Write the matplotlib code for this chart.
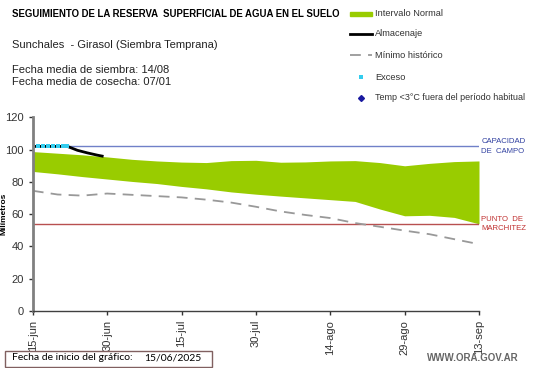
import matplotlib
matplotlib.use("Agg")
import matplotlib.pyplot as plt
import numpy as np

plt.rcParams['font.family'] = ['Liberation Sans', 'DejaVu Sans']

# Datos (dias desde 15-jun)
dias = [0, 5, 10, 15, 20, 25, 30, 35, 40, 45, 50, 55, 60, 65, 70, 75, 80, 85, 90]
normal_sup = [98.8, 97.8, 96.8, 95.5, 94.0, 93.0, 92.3, 92.0, 93.2, 93.4,
              92.2, 92.4, 93.0, 93.2, 92.0, 90.0, 91.5, 92.6, 93.0]
normal_inf = [86.5, 85.0, 83.3, 81.8, 80.3, 79.0, 77.2, 75.7, 73.8, 72.4,
              71.2, 70.1, 69.0, 67.9, 63.2, 59.0, 59.3, 58.0, 54.0]
minimo = [74.5, 72.2, 71.5, 72.8, 72.0, 71.2, 70.4, 69.0, 67.2, 64.6,
          61.7, 59.5, 57.6, 54.5, 52.2, 49.8, 47.6, 44.5, 41.4]

dias_alm = list(range(15))
almacenaje = [102, 102, 102, 102, 102, 102, 102, 102,
              100.8, 99.6, 98.8, 98.0, 97.3, 96.6, 96.0]
dias_exc = list(range(8))
exceso = [102] * 8

capacidad = 102
marchitez = 54

ticks = [0, 15, 30, 45, 60, 75, 90]
tick_labels = ['15-jun', '30-jun', '15-jul', '30-jul', '14-ago', '29-ago', '13-sep']

fig = plt.figure(figsize=(5.41, 3.68), dpi=100)
ax = fig.add_axes([0.0606, 0.155, 0.8248, 0.526])

ax.fill_between(dias, normal_inf, normal_sup, color='#99cc00', lw=0)
ax.axhline(capacidad, color='#7080c8', lw=1)
ax.axhline(marchitez, color='#b85050', lw=1)
ax.plot(dias, minimo, color='#999999', lw=1.3, dashes=(6, 4))
ax.plot(dias_alm, almacenaje, color='black', lw=2)
ax.plot(dias_exc, exceso, ls='none', marker='s', ms=2.4, mew=0, color='#33ccee')

ax.set_xlim(0, 90)
ax.set_ylim(0, 120)
ax.set_yticks(range(0, 121, 20))
ax.set_xticks(ticks)
ax.set_xticklabels(tick_labels, rotation=90)
ax.tick_params(labelsize=8, length=3, width=1, colors='#333333')
for s in ['top', 'right']:
    ax.spines[s].set_visible(False)
ax.spines['left'].set_color('#808080')
ax.spines['left'].set_linewidth(2)
ax.spines['bottom'].set_color('#404040')
ax.spines['bottom'].set_linewidth(1)
ax.set_ylabel('Milímetros', fontsize=6, fontweight='bold')
ax.yaxis.set_label_coords(-0.056, 0.5)

ax.text(90.5, capacidad, 'CAPACIDAD\nDE  CAMPO', color='#3040a0', fontsize=5.6,
        va='center', ha='left', linespacing=1.5)
ax.text(90.5, marchitez, 'PUNTO  DE\nMARCHITEZ', color='#c03030', fontsize=5.6,
        va='center', ha='left', linespacing=1.5)

# textos superiores (coordenadas en pixeles de la figura)
W, H = 541, 368
def ft(x, y, s, **kw):
    fig.text(x / W, 1 - y / H, s, va='center', ha='left', **kw)

ft(12, 14, 'SEGUIMIENTO DE LA RESERVA  SUPERFICIAL DE AGUA EN EL SUELO',
   fontsize=6.9, fontweight='bold')
ft(12, 45, 'Sunchales  - Girasol (Siembra Temprana)', fontsize=8, color='#222222')
ft(12, 70, 'Fecha media de siembra: 14/08', fontsize=8, color='#222222')
ft(12, 82, 'Fecha media de cosecha: 07/01', fontsize=8, color='#222222')

# leyenda
lx0, lx1 = 350 / W, 372 / W
fig.patches.append(plt.Rectangle((lx0, 1 - 16 / H), lx1 - lx0, 4 / H,
                                 transform=fig.transFigure, color='#99cc00'))
fig.add_artist(plt.Line2D([lx0, lx1], [1 - 34 / H] * 2, color='black', lw=2))
fig.add_artist(plt.Line2D([lx0, lx1], [1 - 55 / H] * 2, color='#999999', lw=1.3,
                          dashes=(6, 4)))
fig.add_artist(plt.Line2D([361 / W], [1 - 77 / H], marker='s', ms=2.5, mew=0,
                          color='#33ccee', ls='none'))
fig.add_artist(plt.Line2D([361 / W], [1 - 98 / H], marker='D', ms=3,
                          color='#1a1aa0', ls='none'))
ft(375, 13, 'Intervalo Normal', fontsize=6.7, color='#333333')
ft(375, 34, 'Almacenaje', fontsize=6.7, color='#333333')
ft(375, 55, 'Mínimo histórico', fontsize=6.7, color='#333333')
ft(375, 77, 'Exceso', fontsize=6.7, color='#333333')
ft(375, 98, 'Temp <3°C fuera del período habitual', fontsize=6.5, color='#333333')

# pie
fig.patches.append(plt.Rectangle((5 / W, 1 - 367 / H), 207 / W, 16 / H,
                                 transform=fig.transFigure, fill=False,
                                 edgecolor='#806060', lw=1))
ft(12, 358, 'Fecha de inicio del gráfico:', fontsize=7.5, family=['Lato', 'DejaVu Sans'])
ft(144, 358, '15/06/2025', fontsize=7.5, family=['Lato', 'DejaVu Sans'])
ft(427, 358, 'WWW.ORA.GOV.AR', fontsize=7, fontweight='bold', color='#666666')

fig.savefig('out.png', dpi=100)
